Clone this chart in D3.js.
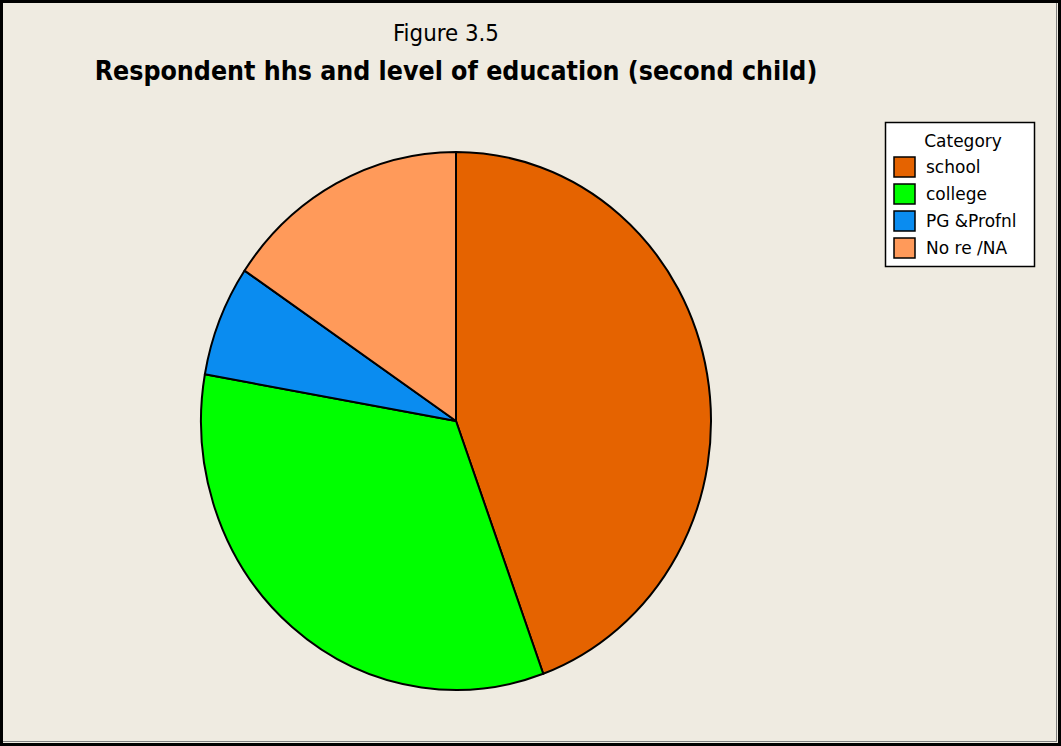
<!DOCTYPE html>
<html><head><meta charset="utf-8">
<script src="https://cdn.jsdelivr.net/npm/d3@7"></script>
<style>html,body{margin:0;padding:0;background:#EFEBE1;}svg{display:block;}</style>
</head><body>
<script>
const categories = ["school", "college", "PG &Profnl", "No re /NA"];
const counts = [20, 15, 3, 7];
const colors = ["#E56300", "#00FF00", "#0A8CF0", "#FF9A5A"];
const figureLabel = "Figure 3.5";
const titleText = "Respondent hhs and level of education (second child)";
const legendTitle = "Category";

const W = 1061, H = 746;
const svg = d3.select("body").append("svg").attr("width", W).attr("height", H);
svg.append("rect").attr("x", 0).attr("y", 0).attr("width", W).attr("height", H).attr("fill", "#EFEBE1");

// Titles
const t1 = svg.append("text").attr("x", 446).attr("y", 41).attr("text-anchor", "middle")
  .attr("font-family", "DejaVu Sans Condensed, DejaVu Sans").attr("font-size", 20).attr("fill", "#000").text(figureLabel);
const t2 = svg.append("text").attr("x", 456).attr("y", 80).attr("text-anchor", "middle")
  .attr("font-family", "DejaVu Sans Condensed, DejaVu Sans").attr("font-weight", "bold").attr("font-size", 25).attr("fill", "#000").text(titleText);
function fit(sel, w) { const l = sel.node().getComputedTextLength(); sel.attr("font-size", +sel.attr("font-size") * w / l); }
fit(t1, 106); fit(t2, 723);

// Pie
const cx = 456, cy = 421, rx = 255, ry = 269;
const pie = d3.pie().sort(null).value(d => d.v);
const data = pie(categories.map((c, i) => ({c, v: counts[i], col: colors[i]})));
const arc = d3.arc().innerRadius(0).outerRadius(rx);
const g = svg.append("g").attr("transform", `translate(${cx},${cy}) scale(1,${ry / rx})`);
g.selectAll("path").data(data).join("path")
  .attr("d", arc).attr("fill", d => d.data.col)
  .attr("stroke", "#000").attr("stroke-width", 2).attr("stroke-linejoin", "round")
  .attr("vector-effect", "non-scaling-stroke");

// Legend
const lg = svg.append("g");
lg.append("rect").attr("x", 885.5).attr("y", 122.5).attr("width", 149).attr("height", 144)
  .attr("fill", "#fff").attr("stroke", "#000").attr("stroke-width", 1.5);
lg.append("text").attr("x", 963).attr("y", 147).attr("text-anchor", "middle")
  .attr("font-family", "DejaVu Sans").attr("font-size", 17).attr("fill", "#000").text(legendTitle);
const rows = lg.selectAll("g.row").data(categories).join("g").attr("class", "row")
  .attr("transform", (d, i) => `translate(0,${157 + i * 27})`);
rows.append("rect").attr("x", 894).attr("y", 0).attr("width", 21).attr("height", 20)
  .attr("fill", (d, i) => colors[i]).attr("stroke", "#000").attr("stroke-width", 1.5);
rows.append("text").attr("x", 926).attr("y", 16).attr("font-family", "DejaVu Sans").attr("font-size", 17)
  .attr("fill", "#000").text(d => d);

// Border
svg.append("line").attr("x1", 1056.5).attr("y1", 3).attr("x2", 1056.5).attr("y2", 742).attr("stroke", "#808080").attr("stroke-width", 1);
svg.append("line").attr("x1", 3).attr("y1", 741.5).attr("x2", 1057).attr("y2", 741.5).attr("stroke", "#808080").attr("stroke-width", 1);
svg.append("rect").attr("x", 1.5).attr("y", 1.5).attr("width", W - 3).attr("height", H - 3)
  .attr("fill", "none").attr("stroke", "#000").attr("stroke-width", 3);
</script>
</body></html>
